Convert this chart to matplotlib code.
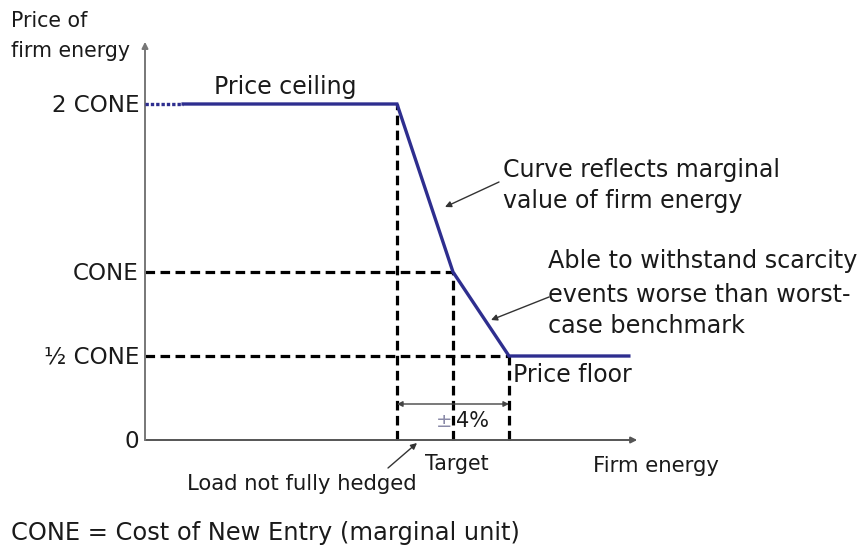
import matplotlib
matplotlib.use("Agg")
import matplotlib.pyplot as plt

plt.rcParams['font.family'] = ['DejaVu Sans']

# ---- data (x: firm energy, arbitrary units; y: price in CONE units) ----
curve_x = [0.68, 4.5, 5.5, 6.5, 8.64]
curve_y = [2.0, 2.0, 1.0, 0.5, 0.5]
dotted_x = [0.0, 0.68]
dotted_y = [2.0, 2.0]
tick_values = [0.0, 0.5, 1.0, 2.0]
tick_labels = ['0', '\u00bd CONE', 'CONE', '2 CONE']
guide_x = [4.5, 5.5, 6.5]          # load not fully hedged, target, +4%
guide_y = [2.0, 1.0, 0.5]
x_axis_end = 8.79
y_axis_end = 2.37

# ---- figure: one axes spanning the whole canvas ----
W, H = 860, 552
PX_X, PX_Y = 56.0, 168.0       # pixels per data unit
OX, OY = 145.0, 440.0          # pixel position of the origin

fig = plt.figure(figsize=(W / 100, H / 100), dpi=100)
ax = fig.add_axes([0, 0, 1, 1])
ax.set_xlim(-OX / PX_X, (W - OX) / PX_X)
ax.set_ylim(-(H - OY) / PX_Y, OY / PX_Y)
ax.axis('off')

def X(px):
    return (px - OX) / PX_X

def Y(py):
    return (OY - py) / PX_Y

TXT = '#1a1a1a'
BLUE = '#2e2e8f'
FS = 17        # main annotation size
FS_S = 15.2    # smaller labels

# axes with arrows
ax.annotate('', xy=(x_axis_end, 0), xytext=(0, 0),
            arrowprops=dict(arrowstyle='-|>', color='#555555', lw=1.4,
                            mutation_scale=9, shrinkA=0, shrinkB=0))
ax.annotate('', xy=(0, y_axis_end), xytext=(0, 0),
            arrowprops=dict(arrowstyle='-|>', color='#777777', lw=1.4,
                            mutation_scale=9, shrinkA=0, shrinkB=0))

# dashed guide lines
dash = dict(color='black', lw=2.3, linestyle=(0, (3.0, 1.7)), zorder=2)
ax.plot([0, guide_x[1]], [guide_y[1]] * 2, **dash)
ax.plot([0, guide_x[2]], [guide_y[2]] * 2, **dash)
for gx, gy in zip(guide_x, guide_y):
    ax.plot([gx, gx], [0, gy], **dash)

# curve
ax.plot(curve_x, curve_y, color=BLUE, lw=2.4, solid_joinstyle='miter', zorder=3)
ax.plot(dotted_x, dotted_y, color=BLUE, lw=2.4, linestyle=(0, (1.0, 0.6)), zorder=3)

# y tick labels
for v, lab in zip(tick_values, tick_labels):
    ax.text(X(139), v - 8 / PX_Y, lab, ha='right', va='baseline', fontsize=16.6, color=TXT)

# axis titles
ax.text(X(11), Y(27), 'Price of', ha='left', va='baseline', fontsize=14.8, color=TXT)
ax.text(X(11), Y(57), 'firm energy', ha='left', va='baseline', fontsize=14.8, color=TXT)
ax.text(X(593), Y(472), 'Firm energy', ha='left', va='baseline', fontsize=15.3, color=TXT)

# annotations
ax.text(X(214), Y(94), 'Price ceiling', ha='left', va='baseline', fontsize=FS, color=TXT)
ax.text(X(503), Y(177), 'Curve reflects marginal', ha='left', va='baseline', fontsize=FS, color=TXT)
ax.text(X(503), Y(208), 'value of firm energy', ha='left', va='baseline', fontsize=FS, color=TXT)
ax.annotate('', xy=(X(445), Y(207)), xytext=(X(499), Y(182)),
            arrowprops=dict(arrowstyle='-|>', color='#333333', lw=1.0,
                            mutation_scale=9, shrinkA=0, shrinkB=0))

ax.text(X(548), Y(268), 'Able to withstand scarcity', ha='left', va='baseline', fontsize=17.2, color=TXT)
ax.text(X(548), Y(302), 'events worse than worst-', ha='left', va='baseline', fontsize=17.2, color=TXT)
ax.text(X(548), Y(333), 'case benchmark', ha='left', va='baseline', fontsize=17.2, color=TXT)
ax.annotate('', xy=(X(491), Y(320)), xytext=(X(549), Y(297)),
            arrowprops=dict(arrowstyle='-|>', color='#333333', lw=1.0,
                            mutation_scale=9, shrinkA=0, shrinkB=0))

ax.text(X(513), Y(382), 'Price floor', ha='left', va='baseline', fontsize=FS, color=TXT)

# +/- 4% band arrow
ax.annotate('', xy=(guide_x[2], Y(404)), xytext=(guide_x[0], Y(404)),
            arrowprops=dict(arrowstyle='<|-|>', color='#444444', lw=1.0,
                            mutation_scale=8, shrinkA=0, shrinkB=0))
ax.text(X(436), Y(427), '\u00b1', ha='left', va='baseline', fontsize=14, color='#8a8aa8')
ax.text(X(456), Y(427), '4%', ha='left', va='baseline', fontsize=15, color=TXT)

ax.text(X(425), Y(470), 'Target', ha='left', va='baseline', fontsize=14.8, color=TXT)
ax.text(X(187), Y(490), 'Load not fully hedged', ha='left', va='baseline', fontsize=FS_S, color=TXT)
ax.annotate('', xy=(X(417), Y(443)), xytext=(X(388), Y(468)),
            arrowprops=dict(arrowstyle='-|>', color='#333333', lw=1.0,
                            mutation_scale=9, shrinkA=0, shrinkB=0))

ax.text(X(11), Y(540), 'CONE = Cost of New Entry (marginal unit)', ha='left', va='baseline',
        fontsize=17.4, color=TXT)

fig.savefig('out.png', dpi=100)
